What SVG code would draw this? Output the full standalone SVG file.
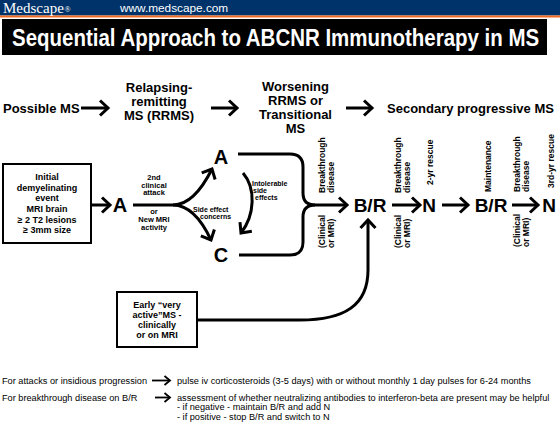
<svg xmlns="http://www.w3.org/2000/svg" width="560" height="423" viewBox="0 0 560 423">
<defs>
<style>
text{font-family:"Liberation Sans",Arial,Helvetica,sans-serif;fill:#000}
.stage{font-size:13px;font-weight:bold}
.mid{text-anchor:middle}
.big{font-size:20px;font-weight:bold;text-anchor:middle}
.box9{font-size:9px;font-weight:bold;text-anchor:middle}
.lbl8{font-size:7.5px;font-weight:bold;text-anchor:middle}
.lbl7{font-size:7px;font-weight:bold}
.vt{font-size:8.5px;font-weight:bold}
.foot{font-size:9.2px}
.ln{fill:none;stroke:#000;stroke-width:3}
.lns{fill:none;stroke:#000;stroke-width:1.8}
.box{fill:#fff;stroke:#000;stroke-width:2}
</style>
<marker id="ah" markerUnits="userSpaceOnUse" markerWidth="14" markerHeight="20" viewBox="-11 -10 14 20" refX="0" refY="0" orient="auto">
<path d="M-8,-7.5 L0,0 L-8,7.5" fill="none" stroke="#000" stroke-width="3"/>
</marker>
<marker id="ahs" markerUnits="userSpaceOnUse" markerWidth="10" markerHeight="12" viewBox="-8 -6 10 12" refX="0" refY="0" orient="auto">
<path d="M-5.5,-4.5 L0,0 L-5.5,4.5" fill="none" stroke="#000" stroke-width="1.8"/>
</marker>
</defs>
<rect x="0" y="0" width="560" height="423" fill="#fff"/>
<g id="header">
<rect x="0" y="0" width="560" height="15.5" fill="#00336A"/>
<rect x="0" y="15.5" width="560" height="2" fill="#F26A21"/>
<text x="3" y="12.5" style="font-family:'Liberation Serif',serif;font-size:15px;fill:#fff">Medscape</text>
<text x="64.5" y="12" style="font-family:'Liberation Serif',serif;font-size:8px;fill:#fff">®</text>
<text x="120" y="12" style="font-size:11.8px;fill:#fff">www.medscape.com</text>
<rect x="2" y="19" width="545" height="36" fill="#000"/>
<text transform="translate(12,45.5) scale(0.89,1)" style="font-size:23px;font-weight:bold;fill:#fff">Sequential Approach to ABCNR Immunotherapy in MS</text>
</g>
<g id="stages">
<text class="stage" x="3" y="113">Possible MS</text>
<g class="stage mid">
<text x="159" y="92">Relapsing-</text>
<text x="159" y="106">remitting</text>
<text x="159" y="120">MS (RRMS)</text>
<text x="295.5" y="91">Worsening</text>
<text x="295.5" y="105">RRMS or</text>
<text x="295.5" y="119">Transitional</text>
<text x="295.5" y="133">MS</text>
</g>
<text class="stage" x="387" y="113">Secondary progressive MS</text>
</g>
<g id="node-initial">
<rect class="box" x="3" y="164" width="88" height="79"/>
<g class="box9">
<text x="47" y="180">Initial</text>
<text x="47" y="190.7">demyelinating</text>
<text x="47" y="201.4">event</text>
<text x="47" y="212">MRI brain</text>
<text x="47" y="222.7">≥ 2 T2 lesions</text>
<text x="47" y="233.4">≥ 3mm size</text>
</g>
</g>
<g id="node-early">
<rect class="box" x="117" y="292" width="80" height="55"/>
<g class="box9">
<text x="157" y="308">Early “very</text>
<text x="157" y="318">active”MS -</text>
<text x="157" y="328">clinically</text>
<text x="157" y="338">or on MRI</text>
</g>
</g>
<g id="node-A1"><text class="big" x="120" y="212">A</text></g>
<g id="node-A2"><text class="big" x="221" y="164">A</text></g>
<g id="node-C"><text class="big" x="221" y="262">C</text></g>
<g id="node-BR1"><text class="big" x="370" y="212" style="font-size:19px">B/R</text></g>
<g id="node-N1"><text class="big" x="429" y="212" style="font-size:19px">N</text></g>
<g id="node-BR2"><text class="big" x="491" y="212" style="font-size:19px">B/R</text></g>
<g id="node-N2"><text class="big" x="549" y="212" style="font-size:19px">N</text></g>
<g id="connectors">
<path class="ln" d="M81,108 H108" marker-end="url(#ah)"/>
<path class="ln" d="M211,108 H237" marker-end="url(#ah)"/>
<path class="ln" d="M346,108 H372" marker-end="url(#ah)"/>
<path class="ln" d="M91,205 H110" marker-end="url(#ah)"/>
<path class="ln" d="M133,205 H173 C190,205 203,187 212,169" marker-end="url(#ah)"/>
<path class="ln" d="M173,205 C190,205 203,223 211,240" marker-end="url(#ah)"/>
<path class="ln" d="M243,173 C256,188 255,215 241,233" marker-end="url(#ah)"/>
<path class="ln" d="M238,154 H290 Q303,154 303,167 V193 Q303,205 315,205 H347" marker-end="url(#ah)"/>
<path class="ln" d="M239,255 H290 Q303,255 303,242 V217 Q303,205 315,205"/>
<path class="ln" d="M197,320 H300 C345,320 368,305 368,270 V220" marker-end="url(#ah)"/>
<path class="ln" d="M392,205 H420" marker-end="url(#ah)"/>
<path class="ln" d="M442,205 H468" marker-end="url(#ah)"/>
<path class="ln" d="M512,205 H538" marker-end="url(#ah)"/>
<path class="lns" d="M152,380.5 H170" marker-end="url(#ahs)"/>
<path class="lns" d="M155,397.5 H170" marker-end="url(#ahs)"/>
</g>
<g id="labels">
<g class="lbl8">
<text x="154" y="180">2nd</text>
<text x="154" y="187.5">clinical</text>
<text x="154" y="195">attack</text>
<text x="154" y="214">or</text>
<text x="154" y="222">New MRI</text>
<text x="154" y="230">activity</text>
</g>
<g class="lbl7">
<text x="193" y="212">Side effect</text>
<text x="200" y="218.5">concerns</text>
<text x="252" y="186">Intolerable</text>
<text x="253" y="193">side</text>
<text x="255" y="200">effects</text>
</g>
<g class="vt">
<text transform="translate(325,193) rotate(-90)">Breakthrough</text>
<text transform="translate(333.5,193) rotate(-90)">disease</text>
<text transform="translate(325,248) rotate(-90)">(Clinical</text>
<text transform="translate(333.5,248) rotate(-90)">or MRI)</text>
<text transform="translate(401,193) rotate(-90)">Breakthrough</text>
<text transform="translate(409.5,193) rotate(-90)">disease</text>
<text transform="translate(401,248) rotate(-90)">(Clinical</text>
<text transform="translate(409.5,248) rotate(-90)">or MRI)</text>
<text transform="translate(433,185) rotate(-90)">2-yr rescue</text>
<text transform="translate(491,192) rotate(-90)">Maintenance</text>
<text transform="translate(520,192) rotate(-90)">Breakthrough</text>
<text transform="translate(528.5,192) rotate(-90)">disease</text>
<text transform="translate(520,247) rotate(-90)">(Clinical</text>
<text transform="translate(528.5,247) rotate(-90)">or MRI)</text>
<text transform="translate(553.5,188) rotate(-90)">3rd-yr rescue</text>
</g>
</g>
<g id="footnotes">
<text class="foot" x="2" y="383.5">For attacks or insidious progression</text>
<text class="foot" x="177" y="383.5">pulse iv corticosteroids (3-5 days) with or without monthly 1 day pulses for 6-24 months</text>
<text class="foot" x="2" y="401">For breakthrough disease on B/R</text>
<text class="foot" x="177" y="401">assessment of whether neutralizing antibodies to interferon-beta are present may be helpful</text>
<text class="foot" x="177" y="410.3">- if negative - maintain B/R and add N</text>
<text class="foot" x="177" y="419.6">- if positive - stop B/R and switch to N</text>
</g>
</svg>
